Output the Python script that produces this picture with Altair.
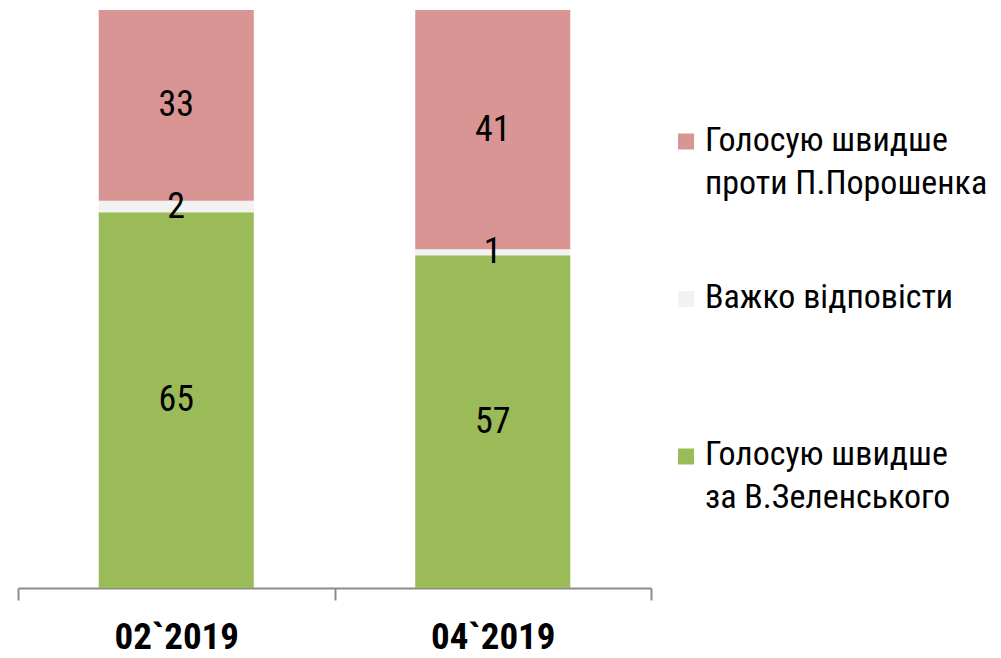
import altair as alt
import pandas as pd

periods = ["02`2019", "04`2019"]
series = ["Голосую швидше за В.Зеленського", "Важко відповісти", "Голосую швидше проти П.Порошенка"]
legend_lines = [["Голосую швидше", "проти П.Порошенка"], ["Важко відповісти"], ["Голосую швидше", "за В.Зеленського"]]
legend_order = ["Голосую швидше проти П.Порошенка", "Важко відповісти", "Голосую швидше за В.Зеленського"]
zelensky = [65, 57]
hard = [2, 1]
poroshenko = [33, 41]
colors = ["#9BBB59", "#F2F2F2", "#D99594"]

FONT = "'Arial Narrow', 'Liberation Sans Narrow', 'Roboto Condensed', 'Liberation Sans', sans-serif"

rows = []
for i, p in enumerate(periods):
    for j, (s, vals) in enumerate(zip(series, [zelensky, hard, poroshenko])):
        rows.append({"period": p, "series": s, "value": vals[i], "order": j})
df = pd.DataFrame(rows)

color_scale = alt.Scale(domain=series, range=colors)

base = alt.Chart(df).encode(
    x=alt.X("period:N", sort=periods,
            scale=alt.Scale(paddingInner=0, paddingOuter=0),
            axis=alt.Axis(title=None, labelAngle=0, tickBand="extent", domainColor="#8c8c8c",
                          domainWidth=2, tickColor="#8c8c8c", tickWidth=2, tickSize=12,
                          labelFont=FONT, labelFontSize=37, labelFontWeight="bold",
                          labelColor="black", labelPadding=19, grid=False)),
)

bars = base.mark_bar(width=alt.RelativeBandSize(0.49)).encode(
    y=alt.Y("value:Q", stack="normalize", axis=None, scale=alt.Scale(domain=[0, 1], nice=False)),
    color=alt.Color("series:N", scale=color_scale, legend=None),
    order=alt.Order("order:Q"),
)

labels = base.transform_stack(
    stack="value", groupby=["period"], as_=["v0", "v1"], sort=[alt.SortField("order")], offset="normalize"
).transform_calculate(
    mid="(datum.v0 + datum.v1) / 2"
).mark_text(font=FONT, fontSize=36, color="black", baseline="middle").encode(
    y=alt.Y("mid:Q", axis=None, scale=alt.Scale(domain=[0, 1], nice=False)),
    text="value:Q",
)

main = alt.layer(bars, labels).properties(width=633, height=578)

leg_df = pd.DataFrame({"series": legend_order, "lines": legend_lines})

leg_base = alt.Chart(leg_df).encode(
    y=alt.Y("series:N", sort=legend_order, axis=None,
            scale=alt.Scale(type="point", padding=0.835)),
)
leg_sym = leg_base.mark_point(shape="square", filled=True, size=256, opacity=1).encode(
    x=alt.value(34),
    color=alt.Color("series:N", scale=color_scale, legend=None),
)
leg_txt = leg_base.mark_text(font=FONT, fontSize=34, align="left", baseline="top", dy=-18,
                             lineHeight=43, color="black").encode(
    x=alt.value(53),
    text="lines",
)
legend = alt.layer(leg_sym, leg_txt).properties(width=340, height=578)

chart = alt.hconcat(main, legend, spacing=0).properties(
    padding={"left": 9, "top": 2, "right": 0, "bottom": 0},
    background="white",
).configure_view(stroke=None)

chart.save("out.html", embed_options={"renderer": "svg", "actions": False})
